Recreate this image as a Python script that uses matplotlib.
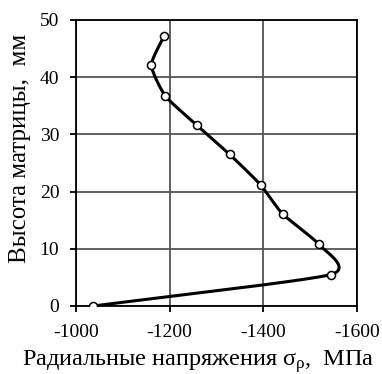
import matplotlib.pyplot as plt
import numpy as np

plt.rcParams['font.family'] = ['Liberation Serif', 'DejaVu Serif']
plt.rcParams['axes.unicode_minus'] = False
plt.rcParams['mathtext.fontset'] = 'custom'
plt.rcParams['mathtext.rm'] = 'Liberation Serif'
plt.rcParams['mathtext.it'] = 'Liberation Serif:italic'

stress = [-1037, -1544, -1518, -1441, -1394, -1328, -1258, -1191, -1161, -1188]
height = [0.0, 5.5, 10.8, 16.1, 21.2, 26.5, 31.6, 36.7, 42.1, 47.2]


def smooth(xs, ys, s=0.3, n=40):
    # cardinal spline through the points (softer than catmull-rom)
    p = np.column_stack([xs, ys]).astype(float)
    m = np.zeros_like(p)
    m[1:-1] = s * (p[2:] - p[:-2])
    m[0] = s * (p[1] - p[0]) * 2
    m[-1] = s * (p[-1] - p[-2]) * 2
    t = np.linspace(0, 1, n)[:, None]
    h00 = 2 * t**3 - 3 * t**2 + 1
    h10 = t**3 - 2 * t**2 + t
    h01 = -2 * t**3 + 3 * t**2
    h11 = t**3 - t**2
    out = [h00 * p[i] + h10 * m[i] + h01 * p[i + 1] + h11 * m[i + 1]
           for i in range(len(p) - 1)]
    c = np.vstack(out)
    return c[:, 0], c[:, 1]


fig = plt.figure(figsize=(3.82, 3.74), dpi=100)
ax = fig.add_axes([76 / 382, 68 / 374, 281 / 382, 286 / 374])

# smooth in pixel-like coordinates so the bend looks right
sx = (np.array(stress) + 1000) / -600 * 281
sy = np.array(height) / 50 * 286
cx, cy = smooth(sx, sy)
ax.plot(cx / 281 * -600 - 1000, cy / 286 * 50, color='black', lw=2.2, zorder=3)
ax.plot(stress, height, 'o', ms=5.8, mfc='white', mec='black', mew=1.1, zorder=4)

ax.set_xlim(-1000, -1600)
ax.set_ylim(0, 50)
ax.set_xticks([-1000, -1200, -1400, -1600])
ax.set_yticks([0, 10, 20, 30, 40, 50])
ax.grid(True, color='#555555', lw=1.3)
ax.set_axisbelow(True)
for s in ax.spines.values():
    s.set_linewidth(1.3)
ax.tick_params(direction='out', length=4, width=1.3, labelsize=14)
ax.tick_params(axis='x', pad=9)
ax.tick_params(axis='y', pad=8)
ax.set_xlabel('Радиальные напряжения σ$_\\mathrm{ρ}$,  МПа', fontsize=17.5)
ax.set_ylabel('Высота матрицы,  мм', fontsize=18)
# labels sit left of the axes centre in the reference
ax.xaxis.set_label_coords((198 - 76) / 281, -(362 - 306) / 286)
ax.yaxis.set_label_coords(-(76 - 20) / 281, (306 - 148) / 286)
ax.xaxis.label.set_va('center')
ax.yaxis.label.set_va('center')

fig.savefig('out.png', dpi=100)
